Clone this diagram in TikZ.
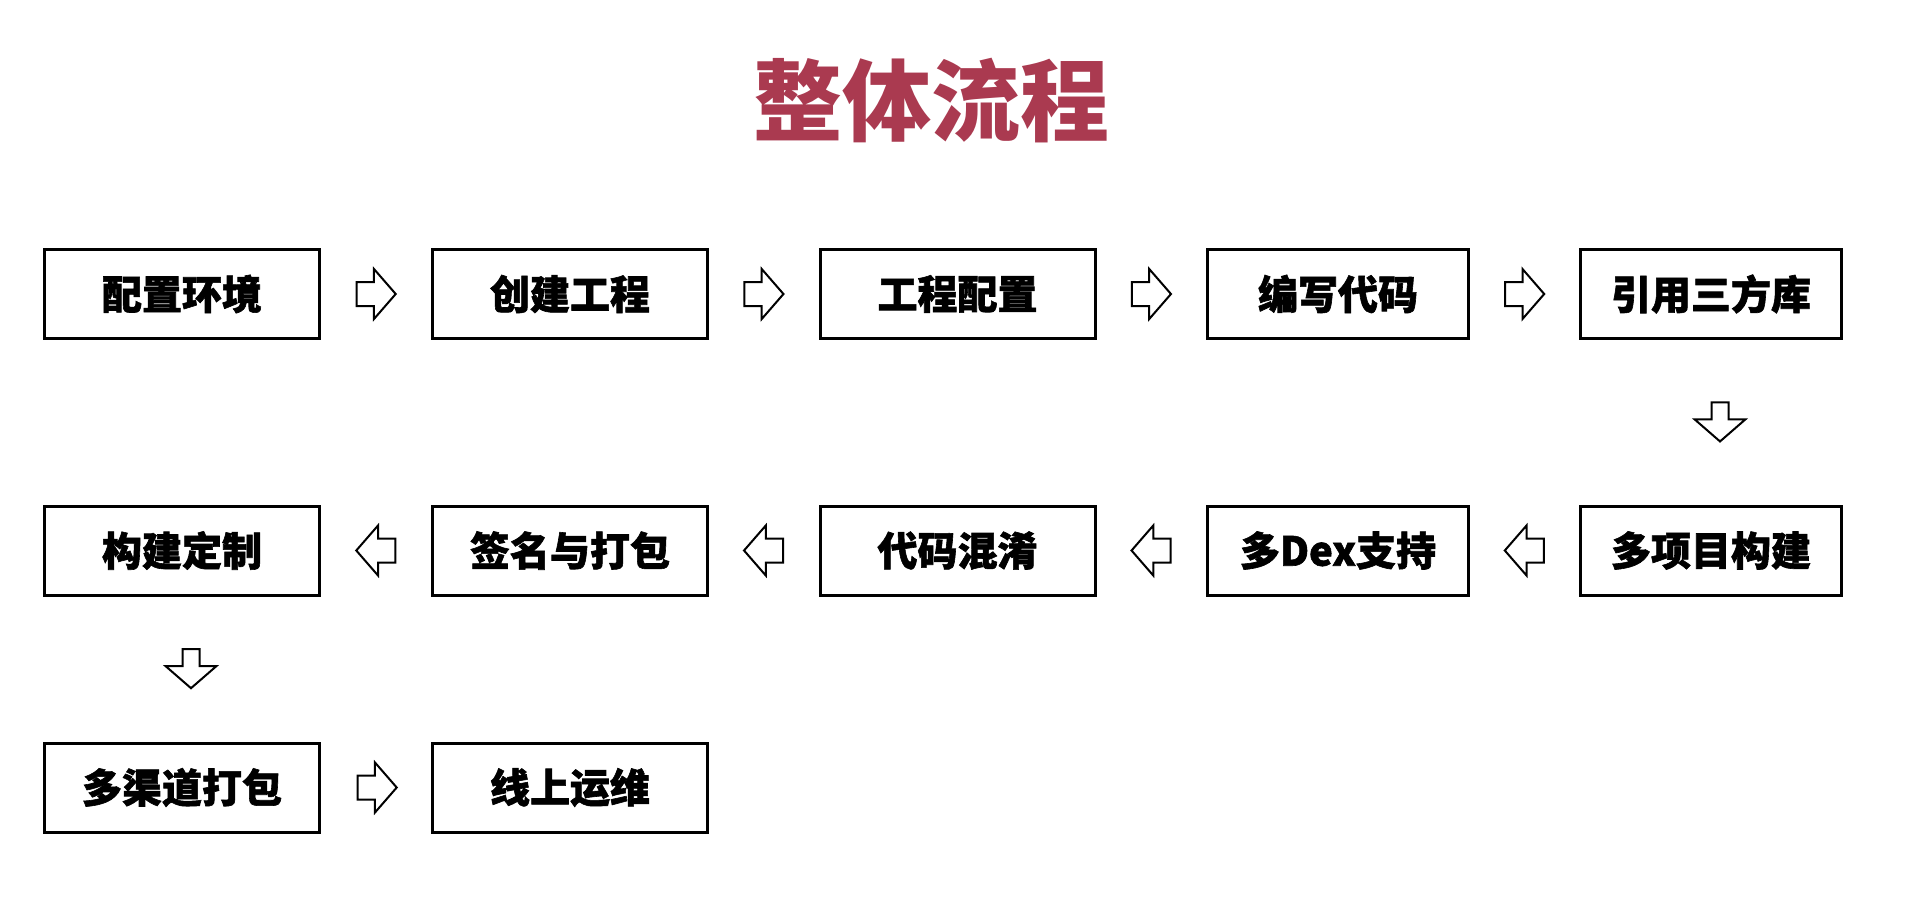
\documentclass[tikz,border=0pt]{standalone}
\usepackage{fontspec}
\setmainfont{Noto Sans CJK SC}
\newfontfamily\heavyfont{Noto Sans CJK SC}[BoldFeatures={FakeBold=1.5}]
\usetikzlibrary{shapes.arrows,calc}
\definecolor{titlered}{RGB}{170,58,80}
\tikzset{
  stepbox/.style={draw,line width=3pt,minimum width=275pt,minimum height=89pt,inner sep=0pt,
    font=\fontsize{40}{40}\selectfont\heavyfont\bfseries},
  narrowbox/.style={stepbox,minimum width=261pt},
  flowarrow/.style={draw,line width=2pt,single arrow,single arrow head extend=13pt,
    single arrow tip angle=98,minimum width=49pt,minimum height=39pt,inner sep=11pt},
  downarrow/.style={flowarrow,single arrow head extend=17pt,inner sep=7.5pt,rotate=-90}
}
\begin{document}
\begin{tikzpicture}[x=1pt,y=-1pt]
                    \fill[white] (0,0) rectangle (1908,910);
                    \useasboundingbox (0,0) rectangle (1908,910);
                    \node[text=titlered,font=\fontsize{89}{89}\selectfont\bfseries] (title) at (931,101) {整体流程};

                    \node[stepbox]   (env)     at ( 182,   294) {配置环境};
                    \node[stepbox]   (create)  at ( 570,   294) {创建工程};
                    \node[stepbox]   (conf)    at ( 957.5, 294) {工程配置};
                    \node[narrowbox] (code)    at (1338,   294) {编写代码};
                    \node[narrowbox] (lib)     at (1711,   294) {引用三方库};

                    \node[stepbox]   (custom)  at ( 182,   550.5) {构建定制};
                    \node[stepbox]   (sign)    at ( 570,   550.5) {签名与打包};
                    \node[stepbox]   (obf)     at ( 957.5, 550.5) {代码混淆};
                    \node[narrowbox] (dex)     at (1338,   550.5) {多Dex支持};
                    \node[narrowbox] (multi)   at (1711,   550.5) {多项目构建};

                    \node[stepbox]   (channel) at ( 182,   787.5) {多渠道打包};
                    \node[stepbox]   (ops)     at ( 570,   787.5) {线上运维};

                    \node[flowarrow] (a1) at ($(env.east)!0.5!(create.west)+(-5,0)$) {};
                    \node[flowarrow] (a2) at ($(create.east)!0.5!(conf.west)+(-5,0)$) {};
                    \node[flowarrow] (a3) at ($(conf.east)!0.5!(code.west)+(-5,0)$) {};
                    \node[flowarrow] (a4) at ($(code.east)!0.5!(lib.west)+(-5,0)$) {};
                    \node[downarrow] (a5) at ($(lib.south)!0.5!(multi.north)+(9,-4)$) {};
                    \node[flowarrow,rotate=180] (a6) at ($(multi.west)!0.5!(dex.east)+(5,0)$) {};
                    \node[flowarrow,rotate=180] (a7) at ($(dex.west)!0.5!(obf.east)+(5,0)$) {};
                    \node[flowarrow,rotate=180] (a8) at ($(obf.west)!0.5!(sign.east)+(5,0)$) {};
                    \node[flowarrow,rotate=180] (a9) at ($(sign.west)!0.5!(custom.east)+(5,0)$) {};
                    \node[downarrow] (a10) at ($(custom.south)!0.5!(channel.north)+(9,-4)$) {};
                    \node[flowarrow] (a11) at ($(channel.east)!0.5!(ops.west)+(-4,0)$) {};
\end{tikzpicture}
\end{document}
